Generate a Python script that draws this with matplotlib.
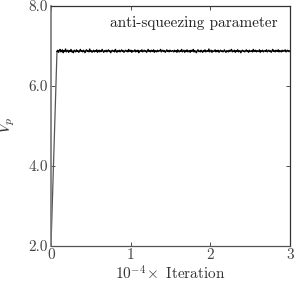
import matplotlib
matplotlib.use("Agg")
import matplotlib.pyplot as plt
import numpy as np

plt.rcParams['font.family'] = 'serif'
plt.rcParams['font.serif'] = ['cmr10', 'DejaVu Serif']
plt.rcParams['mathtext.fontset'] = 'cm'
plt.rcParams['axes.unicode_minus'] = False
plt.rcParams['axes.formatter.use_mathtext'] = True

# start of the run: the ramp up
ramp_x = [0.0, 0.075]
ramp_y = [2.0, 6.86]

# plateau values (fine noise around 6.87)
plateau_y = [
    6.86, 6.89, 6.84, 6.88, 6.91, 6.85, 6.87, 6.90, 6.83, 6.88,
    6.86, 6.92, 6.85, 6.87, 6.89, 6.84, 6.88, 6.86, 6.91, 6.85,
    6.87, 6.83, 6.89, 6.87, 6.85, 6.90, 6.86, 6.88, 6.84, 6.87,
    6.91, 6.86, 6.88, 6.85, 6.89, 6.87, 6.83, 6.88, 6.90, 6.86,
    6.87, 6.85, 6.92, 6.86, 6.88, 6.84, 6.87, 6.89, 6.85, 6.88,
    6.86, 6.90, 6.84, 6.87, 6.89, 6.85, 6.88, 6.86, 6.91, 6.87,
    6.84, 6.88, 6.86, 6.89, 6.85, 6.87, 6.90, 6.86, 6.88, 6.83,
    6.87, 6.89, 6.86, 6.88, 6.85, 6.91, 6.87, 6.84, 6.88, 6.86,
    6.89, 6.85, 6.87, 6.90, 6.86, 6.88, 6.84, 6.87, 6.89, 6.86,
    6.88, 6.85, 6.91, 6.87, 6.86, 6.89, 6.84, 6.88, 6.86, 6.87,
    6.90, 6.85, 6.88, 6.86, 6.89, 6.83, 6.87, 6.88, 6.86, 6.90,
    6.85, 6.87, 6.89, 6.86, 6.88, 6.84, 6.87, 6.91, 6.86, 6.88,
    6.85, 6.89, 6.87, 6.86, 6.90, 6.84, 6.88, 6.87, 6.85, 6.89,
    6.86, 6.88, 6.87, 6.91, 6.85, 6.87, 6.89, 6.86, 6.88, 6.84,
    6.87, 6.90, 6.86, 6.88, 6.85, 6.89, 6.87, 6.86, 6.88, 6.87,
    6.85, 6.89, 6.86, 6.88, 6.84, 6.90, 6.87, 6.85, 6.88, 6.86,
    6.91, 6.85, 6.87, 6.89, 6.84, 6.88, 6.86, 6.90, 6.85, 6.87,
    6.88, 6.84, 6.89, 6.86, 6.87, 6.91, 6.85, 6.88, 6.86, 6.83,
    6.88, 6.90, 6.86, 6.87, 6.85, 6.89, 6.87, 6.84, 6.88, 6.86,
    6.90, 6.85, 6.87, 6.88, 6.86, 6.92, 6.85, 6.87, 6.89, 6.84,
    6.88, 6.86, 6.87, 6.90, 6.85, 6.88, 6.86, 6.89, 6.84, 6.87,
    6.89, 6.86, 6.88, 6.85, 6.87, 6.90, 6.86, 6.84, 6.88, 6.87,
    6.85, 6.89, 6.86, 6.88, 6.91, 6.85, 6.87, 6.86, 6.89, 6.84,
    6.88, 6.86, 6.90, 6.85, 6.87, 6.88, 6.83, 6.87, 6.89, 6.86,
    6.88, 6.85, 6.87, 6.90, 6.86, 6.88, 6.84, 6.89, 6.87, 6.86,
    6.88, 6.85, 6.91, 6.86, 6.87, 6.89, 6.85, 6.88, 6.86, 6.87,
    6.90, 6.84, 6.88, 6.86, 6.89, 6.85, 6.87, 6.88, 6.86, 6.90,
    6.85, 6.87, 6.89, 6.86, 6.88, 6.84, 6.87, 6.91, 6.86, 6.88,
    6.85, 6.89, 6.87, 6.86, 6.90, 6.85, 6.88, 6.87, 6.85, 6.89,
    6.86, 6.88, 6.87, 6.90, 6.85, 6.87, 6.89, 6.86, 6.88, 6.86,
]
plateau_x = np.linspace(0.075, 3.0, len(plateau_y))

xticks = [0, 1, 2, 3]
yticks = [2.0, 4.0, 6.0, 8.0]

fig = plt.figure(figsize=(2.94, 2.83), dpi=100)
ax = fig.add_axes([0.1735, 0.1325, 0.8125, 0.8465])

ax.plot(ramp_x, ramp_y, color='#555555', lw=0.9)
ax.plot(plateau_x, plateau_y, color='black', lw=1.0)

ax.set_xlim(0, 3)
ax.set_ylim(2.0, 8.0)
ax.set_xticks(xticks)
ax.set_xticklabels([str(t) for t in xticks])
ax.set_yticks(yticks)
ax.set_yticklabels(['%.1f' % t for t in yticks])
ax.tick_params(direction='in', top=True, right=True, length=3, width=0.6,
               labelsize=11, colors='#333333', labelcolor='#444444', pad=2)
for s in ax.spines.values():
    s.set_color('#333333')
    s.set_linewidth(0.9)
ax.spines['left'].set_color('#777777')
ax.spines['left'].set_linewidth(1.2)
ax.spines['bottom'].set_color('#555555')

ax.set_xlabel(r'$10^{-4}\!\times$ Iteration', fontsize=11, color='#333333', labelpad=2)
ax.set_ylabel(r'$V_p$', fontsize=12, color='#333333', labelpad=8)
ax.text(0.95, 0.93, 'anti-squeezing parameter', transform=ax.transAxes,
        ha='right', va='center', fontsize=11, color='#222222')

fig.savefig('out.png', dpi=100)
